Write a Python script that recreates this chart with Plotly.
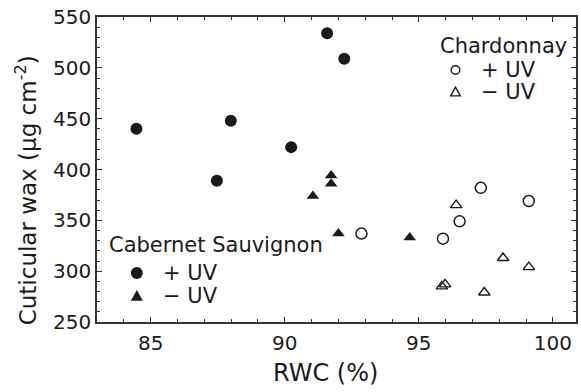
import plotly.graph_objects as go

# Cabernet Sauvignon
cab_uv_plus_x = [84.47, 87.47, 87.99, 90.24, 91.58, 92.22]
cab_uv_plus_y = [440, 389, 448, 422, 534, 509]
cab_uv_minus_x = [91.73, 91.73, 91.05, 92.0, 94.66]
cab_uv_minus_y = [394, 386, 374, 337, 333]

# Chardonnay
cha_uv_plus_x = [92.86, 95.9, 96.52, 97.31, 99.1]
cha_uv_plus_y = [337, 332, 349, 382, 369]
cha_uv_minus_x = [96.39, 98.14, 99.1, 95.86, 95.98, 97.44]
cha_uv_minus_y = [365, 313, 304, 285, 287, 279]

x_ticks = [85, 90, 95, 100]
y_ticks = [250, 300, 350, 400, 450, 500, 550]

legend_titles = ["Chardonnay", "Cabernet Sauvignon"]
legend_labels = ["+ UV", "\u2212 UV"]
x_title = "RWC (%)"
y_title = "Cuticular wax (\u00b5g cm<sup>-2</sup>)"

FONT = "DejaVu Sans"
INK = "#1a1a1a"

# plot area in pixels (for placing the hand-made legends and titles)
L, R, T, B = 97, 578, 17, 322
def px(x):
    return (x - L) / (R - L)
def py(y):
    return (B - y) / (B - T)

fig = go.Figure()

fig.add_trace(go.Scatter(x=cab_uv_plus_x, y=cab_uv_plus_y, mode="markers",
                         marker=dict(symbol="circle", size=12, color=INK)))
fig.add_trace(go.Scatter(x=cab_uv_minus_x, y=cab_uv_minus_y, mode="markers",
                         marker=dict(symbol="triangle-up", size=11, color=INK)))
fig.add_trace(go.Scatter(x=cha_uv_plus_x, y=cha_uv_plus_y, mode="markers",
                         marker=dict(symbol="circle-open", size=11, color=INK, line=dict(width=1.5))))
fig.add_trace(go.Scatter(x=cha_uv_minus_x, y=cha_uv_minus_y, mode="markers",
                         marker=dict(symbol="triangle-up-open", size=10, color=INK, line=dict(width=1.4))))

axis_common = dict(
    showline=True, linecolor="#333", linewidth=1.5, mirror="allticks",
    ticks="inside", ticklen=5, tickwidth=1.2, tickcolor="#333",
    showgrid=False, zeroline=False,
    tickfont=dict(family=FONT, size=20, color=INK),
)

annotations = []
shapes = []

def add_legend(title, tx, ty, sx, tx2, y1, y2, r, rt, filled):
    annotations.append(dict(text=title, xref="paper", yref="paper", x=px(tx), y=py(ty),
                            xanchor="left", yanchor="middle", showarrow=False,
                            font=dict(family=FONT, size=21, color=INK)))
    for lab, yy in zip(legend_labels, [y1, y2]):
        annotations.append(dict(text=lab, xref="paper", yref="paper", x=px(tx2), y=py(yy),
                                xanchor="left", yanchor="middle", showarrow=False,
                                font=dict(family=FONT, size=21, color=INK)))
    fill = INK if filled else "rgba(0,0,0,0)"
    lw = 0 if filled else 1.4
    shapes.append(dict(type="circle", xref="paper", yref="paper",
                       xsizemode="pixel", ysizemode="pixel",
                       xanchor=px(sx), yanchor=py(y1),
                       x0=-r, x1=r, y0=-r, y1=r,
                       fillcolor=fill, line=dict(color=INK, width=lw)))
    h = rt * 0.95
    shapes.append(dict(type="path", xref="paper", yref="paper",
                       xsizemode="pixel", ysizemode="pixel",
                       xanchor=px(sx), yanchor=py(y2),
                       path=f"M {-rt} {-h*0.85} L {rt} {-h*0.85} L 0 {h*1.05} Z",
                       fillcolor=fill, line=dict(color=INK, width=lw)))

add_legend(legend_titles[0], 439, 46, 457, 481, 70, 92, 4.3, 4.8, False)
add_legend(legend_titles[1], 107, 245, 137, 161, 273, 296, 6, 6, True)

# axis titles
annotations.append(dict(text=x_title, xref="paper", yref="paper", x=px(326), y=py(373),
                        xanchor="center", yanchor="middle", showarrow=False,
                        font=dict(family=FONT, size=24, color=INK)))
annotations.append(dict(text=y_title, xref="paper", yref="paper", x=px(26), y=py(190),
                        xanchor="center", yanchor="middle", showarrow=False, textangle=-90,
                        font=dict(family=FONT, size=23, color=INK)))

fig.update_layout(
    width=581, height=392,
    margin=dict(l=L, r=581 - R, t=T, b=392 - B),
    paper_bgcolor="white", plot_bgcolor="white",
    showlegend=False,
    font=dict(family=FONT, color=INK),
    xaxis=dict(range=[83, 100.86], tickvals=x_ticks, ticklabelstandoff=2,
               minor=dict(dtick=1, ticks="inside", ticklen=3, tickcolor="#333", tickwidth=1),
               **axis_common),
    yaxis=dict(range=[250, 550], tickvals=y_ticks,
               minor=dict(dtick=10, ticks="inside", ticklen=3, tickcolor="#333", tickwidth=1),
               **axis_common),
    annotations=annotations,
    shapes=shapes,
)

fig.write_html("out.html")
